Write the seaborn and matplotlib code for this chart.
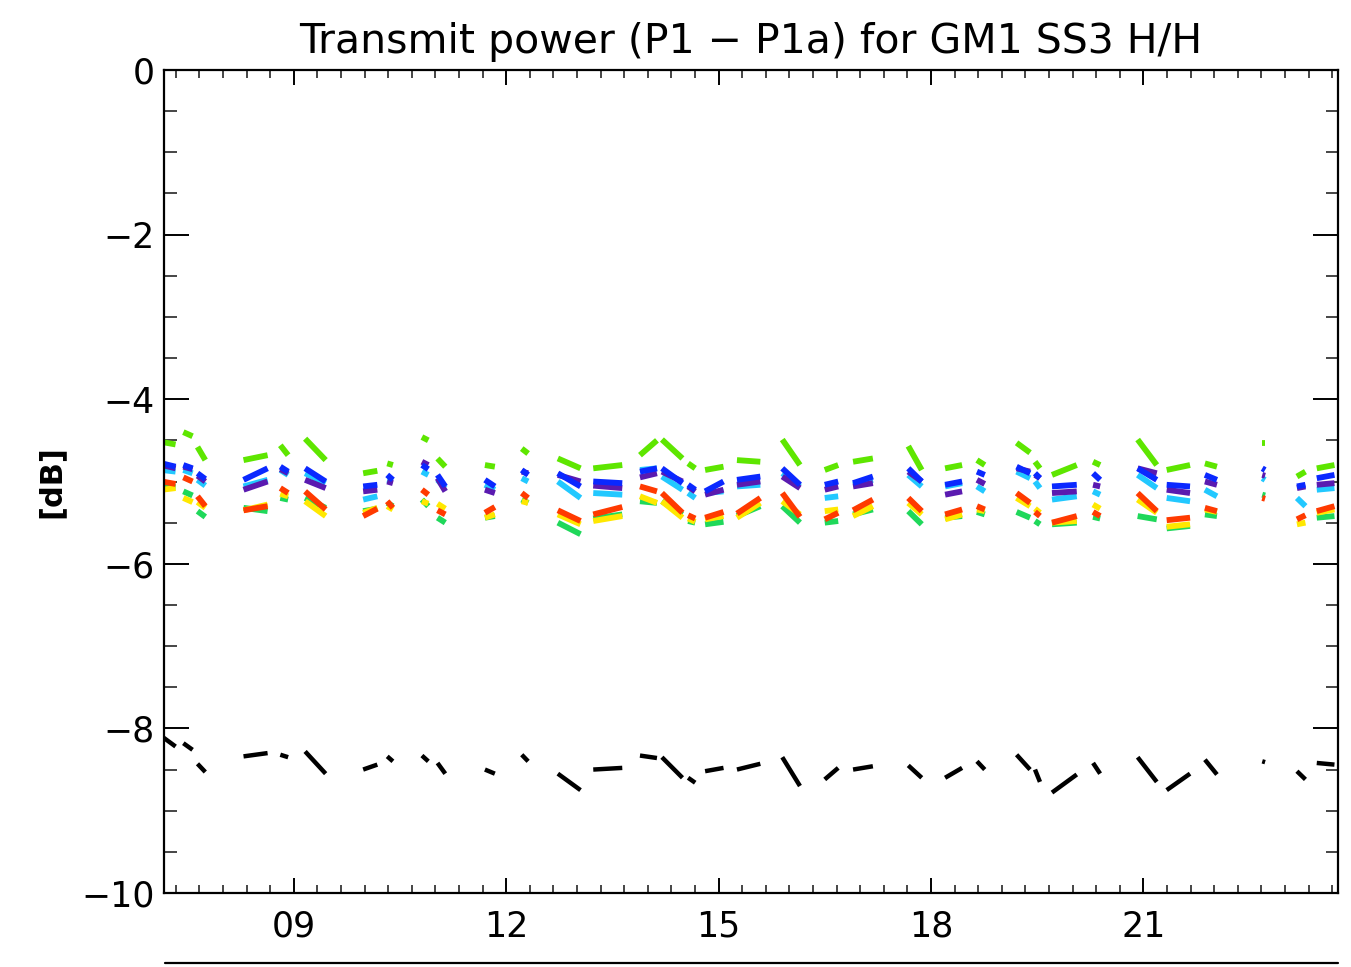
import numpy as np
import pandas as pd
import matplotlib
matplotlib.use("Agg")
import matplotlib.pyplot as plt
from matplotlib.lines import Line2D
from matplotlib.ticker import FixedLocator, MultipleLocator
import seaborn as sns

# ---- data (hours of day, dB) ----
cl_start = [7.14, 7.44, 7.64, 8.29, 8.81, 9.16, 9.98, 10.32, 10.81, 11.03, 11.70, 12.22,
            12.73, 13.23, 13.89, 14.20, 14.57, 14.81, 15.26, 15.90, 16.50, 16.90, 17.68,
            18.20, 18.65, 19.21, 19.47, 19.71, 20.29, 20.92, 21.33, 21.87, 22.68, 23.17, 23.45]
cl_end = [7.33, 7.57, 7.75, 8.63, 8.92, 9.45, 10.18, 10.40, 10.90, 11.14, 11.84, 12.31,
          13.05, 13.64, 14.13, 14.49, 14.67, 15.07, 15.59, 16.15, 16.69, 17.18, 17.87,
          18.44, 18.76, 19.40, 19.54, 20.06, 20.39, 21.19, 21.66, 22.04, 22.72, 23.29, 23.70]

green_hi = [(-4.52, -4.55), (-4.40, -4.45), (-4.58, -4.74), (-4.74, -4.68), (-4.56, -4.68),
            (-4.48, -4.74), (-4.90, -4.87), (-4.78, -4.80), (-4.46, -4.50), (-4.72, -4.82),
            (-4.80, -4.82), (-4.60, -4.66), (-4.72, -4.84), (-4.84, -4.80), (-4.68, -4.50),
            (-4.49, -4.72), (-4.78, -4.84), (-4.86, -4.82), (-4.74, -4.76), (-4.49, -4.80),
            (-4.86, -4.80), (-4.76, -4.72), (-4.57, -4.86), (-4.84, -4.80), (-4.74, -4.80),
            (-4.53, -4.65), (-4.76, -4.84), (-4.92, -4.80), (-4.76, -4.80), (-4.49, -4.80),
            (-4.86, -4.80), (-4.78, -4.82), (-4.53, -4.53), (-4.94, -4.88), (-4.84, -4.80)]
blue = [(-4.78, -4.82), (-4.80, -4.84), (-4.90, -4.97), (-4.98, -4.84), (-4.82, -4.88),
        (-4.84, -5.00), (-5.06, -5.04), (-4.92, -4.98), (-4.80, -4.85), (-4.92, -5.06),
        (-4.98, -5.06), (-4.86, -4.92), (-4.90, -5.06), (-5.00, -5.02), (-4.88, -4.84),
        (-4.84, -5.02), (-5.04, -5.10), (-5.12, -5.00), (-4.98, -4.94), (-4.84, -5.04),
        (-5.04, -5.00), (-5.02, -4.94), (-4.84, -5.00), (-5.04, -5.00), (-4.88, -4.92),
        (-4.82, -4.90), (-4.90, -4.96), (-5.06, -5.04), (-4.90, -4.98), (-4.84, -4.98),
        (-5.04, -5.06), (-4.92, -4.98), (-4.84, -4.86), (-5.06, -5.04), (-4.96, -4.92)]
purple = [(-4.80, -4.84), (-4.82, -4.85), (-4.93, -5.00), (-5.10, -5.00), (-4.85, -4.90),
          (-4.98, -5.08), (-5.12, -5.10), (-5.00, -5.02), (-4.76, -4.80), (-4.96, -5.12),
          (-5.10, -5.14), (-4.88, -4.90), (-4.92, -5.00), (-5.05, -5.08), (-4.95, -4.90),
          (-4.88, -5.00), (-5.06, -5.12), (-5.16, -5.10), (-5.04, -5.00), (-4.94, -5.08),
          (-5.10, -5.06), (-5.06, -5.02), (-4.88, -5.00), (-5.16, -5.12), (-4.98, -5.03),
          (-4.84, -4.88), (-4.92, -4.96), (-5.14, -5.12), (-5.04, -5.06), (-4.84, -4.90),
          (-5.10, -5.14), (-5.00, -5.04), (-4.92, -4.93), (-5.08, -5.06), (-5.04, -5.02)]
cyan = [(-4.86, -4.88), (-4.86, -4.90), (-4.98, -5.05), (-5.06, -4.98), (-4.86, -4.92),
        (-4.90, -5.02), (-5.22, -5.18), (-4.98, -5.00), (-4.88, -4.92), (-4.98, -5.08),
        (-5.04, -5.10), (-4.96, -5.00), (-5.00, -5.20), (-5.14, -5.16), (-4.86, -4.84),
        (-4.94, -5.10), (-5.14, -5.20), (-5.14, -5.12), (-5.06, -5.04), (-4.90, -5.06),
        (-5.20, -5.18), (-5.04, -4.98), (-4.92, -5.06), (-5.06, -5.02), (-5.06, -5.12),
        (-4.88, -4.96), (-5.00, -5.08), (-5.22, -5.18), (-5.12, -5.16), (-4.92, -5.08),
        (-5.20, -5.24), (-5.10, -5.18), (-4.96, -4.98), (-5.20, -5.30), (-5.10, -5.08)]
red = [(-5.00, -5.03), (-4.95, -5.00), (-5.18, -5.30), (-5.35, -5.30), (-5.08, -5.14),
       (-5.12, -5.34), (-5.42, -5.33), (-5.24, -5.32), (-5.10, -5.16), (-5.35, -5.40),
       (-5.38, -5.31), (-5.14, -5.20), (-5.35, -5.48), (-5.40, -5.31), (-5.06, -5.12),
       (-5.14, -5.38), (-5.41, -5.45), (-5.44, -5.37), (-5.39, -5.20), (-5.14, -5.43),
       (-5.46, -5.38), (-5.35, -5.22), (-5.20, -5.36), (-5.40, -5.34), (-5.30, -5.34),
       (-5.14, -5.26), (-5.37, -5.42), (-5.50, -5.42), (-5.37, -5.42), (-5.14, -5.36),
       (-5.47, -5.44), (-5.32, -5.36), (-5.20, -5.21), (-5.46, -5.41), (-5.36, -5.30)]
yellow = [(-5.10, -5.08), (-5.20, -5.25), (-5.25, -5.32), (-5.35, -5.28), (-5.15, -5.18),
          (-5.24, -5.42), (-5.38, -5.32), (-5.30, -5.34), (-5.24, -5.27), (-5.27, -5.33),
          (-5.44, -5.40), (-5.24, -5.26), (-5.40, -5.52), (-5.48, -5.42), (-5.18, -5.26),
          (-5.24, -5.44), (-5.45, -5.49), (-5.46, -5.42), (-5.44, -5.26), (-5.24, -5.40),
          (-5.36, -5.34), (-5.42, -5.30), (-5.26, -5.40), (-5.46, -5.40), (-5.34, -5.36),
          (-5.20, -5.30), (-5.33, -5.38), (-5.50, -5.48), (-5.28, -5.33), (-5.22, -5.38),
          (-5.55, -5.52), (-5.34, -5.37), (np.nan, np.nan), (-5.52, -5.50), (-5.38, -5.34)]
green_lo = [(-5.05, -5.07), (-5.12, -5.17), (-5.36, -5.43), (-5.32, -5.36), (-5.20, -5.22),
            (-5.20, -5.32), (-5.36, -5.33), (-5.26, -5.30), (-5.22, -5.30), (-5.44, -5.50),
            (-5.44, -5.42), (-5.22, -5.26), (-5.50, -5.64), (-5.45, -5.40), (-5.24, -5.26),
            (-5.24, -5.40), (-5.48, -5.50), (-5.52, -5.49), (-5.42, -5.30), (-5.30, -5.50),
            (-5.50, -5.48), (-5.40, -5.34), (-5.36, -5.52), (-5.44, -5.42), (-5.37, -5.40),
            (-5.37, -5.44), (-5.48, -5.52), (-5.52, -5.50), (-5.43, -5.45), (-5.42, -5.46),
            (-5.57, -5.54), (-5.40, -5.42), (-5.16, -5.17), (np.nan, np.nan), (-5.44, -5.42)]
black = [(-8.10, -8.22), (-8.18, -8.26), (-8.43, -8.53), (-8.34, -8.30), (-8.32, -8.35),
         (-8.28, -8.55), (-8.50, -8.44), (-8.34, -8.40), (-8.33, -8.40), (-8.42, -8.55),
         (-8.50, -8.55), (-8.32, -8.40), (-8.55, -8.75), (-8.50, -8.48), (-8.33, -8.36),
         (-8.35, -8.60), (-8.60, -8.66), (-8.52, -8.48), (-8.50, -8.43), (-8.35, -8.70),
         (-8.62, -8.48), (-8.50, -8.46), (-8.45, -8.60), (-8.60, -8.48), (-8.40, -8.50),
         (-8.32, -8.50), (-8.50, -8.65), (-8.78, -8.56), (-8.42, -8.55), (-8.35, -8.65),
         (-8.75, -8.55), (-8.38, -8.56), (-8.40, -8.41), (-8.52, -8.62), (-8.42, -8.44)]

series_names = ["green_hi", "green_lo", "yellow", "red", "cyan", "purple", "blue", "black"]
series_vals = [green_hi, green_lo, yellow, red, cyan, purple, blue, black]
series_colors = ["#5ee600", "#1fd85a", "#ffe800", "#ff3a00", "#22c8ff", "#5a1ab0", "#0a28ff", "#000000"]

x_ticks = [9, 12, 15, 18, 21]
x_ticklabels = ["09", "12", "15", "18", "21"]
y_ticks = [0, -2, -4, -6, -8, -10]

# ---- build long table ----
rows = []
for name, vals in zip(series_names, series_vals):
    for ci, (t0, t1) in enumerate(zip(cl_start, cl_end)):
        v0, v1 = vals[ci]
        if np.isnan(v0):
            continue
        rows.append((name, ci, t0, v0))
        rows.append((name, ci, t1, v1))
df = pd.DataFrame(rows, columns=["series", "cluster", "time", "value"])

sns.set_style("white")
plt.rcParams["font.family"] = ["DejaVu Sans"]
plt.rcParams["text.color"] = "black"

fig = plt.figure(figsize=(13.51, 9.67), dpi=100)
ax = fig.add_axes([164 / 1351, 1 - 893 / 967, (1338 - 164) / 1351, (893 - 70) / 967])

pal = dict(zip(series_names, series_colors))
colored = df[df["series"] != "black"]
dark = df[df["series"] == "black"]
sns.lineplot(data=colored, x="time", y="value", hue="series", hue_order=series_names[:-1],
             palette=pal, units="cluster", estimator=None, sort=False,
             linewidth=4.2, legend=False, ax=ax, solid_capstyle="butt")
sns.lineplot(data=dark, x="time", y="value", hue="series", palette=pal, units="cluster",
             estimator=None, sort=False, linewidth=3.2, legend=False, ax=ax,
             solid_capstyle="butt")

ax.set_xlim(7.1667, 23.75)
ax.set_ylim(-10, 0)
ax.xaxis.set_major_locator(FixedLocator(x_ticks))
ax.set_xticklabels(x_ticklabels)
ax.xaxis.set_minor_locator(MultipleLocator(1 / 3))
ax.yaxis.set_major_locator(FixedLocator(y_ticks))
ax.yaxis.set_minor_locator(MultipleLocator(0.5))

ax.set_xlabel("")
ax.set_ylabel("[dB]", fontsize=22, fontweight="bold", labelpad=11, color="black")
ax.set_title("Transmit power (P1 \u2212 P1a) for GM1 SS3 H/H", fontsize=29.5, pad=12,
             color="black")

for s in ax.spines.values():
    s.set_linewidth(1.6)
    s.set_color("black")

ax.tick_params(axis="x", which="major", direction="in", length=11, width=1.4,
               top=True, bottom=True, labelsize=25, pad=12, colors="black")
ax.tick_params(axis="x", which="minor", direction="in", length=5.5, width=1.2,
               top=True, bottom=True)
ax.tick_params(axis="y", which="major", direction="in", length=18, width=1.4,
               left=True, right=True, labelsize=25, pad=7, colors="black")
ax.tick_params(axis="y", which="minor", direction="in", length=9, width=1.2,
               left=True, right=True)

fig.add_artist(Line2D([165 / 1351, 1338 / 1351], [1 - 963 / 967, 1 - 963 / 967],
                      transform=fig.transFigure, color="black", linewidth=1.6))

fig.savefig("out.png", dpi=100)
